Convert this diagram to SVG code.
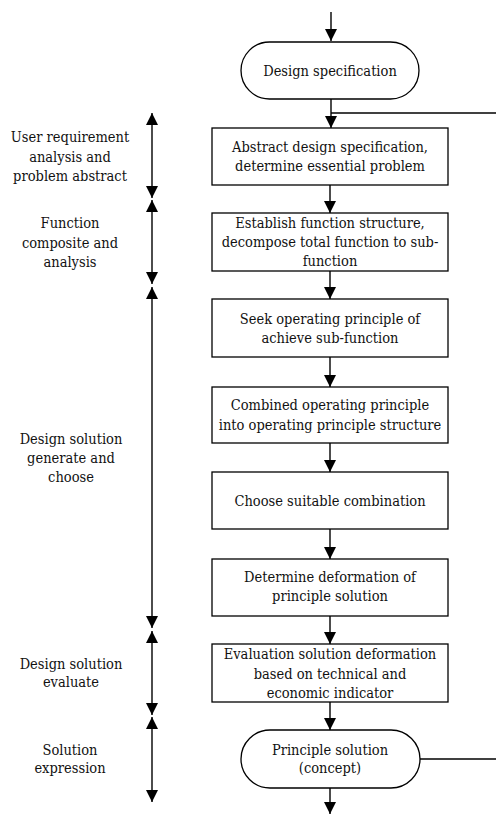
<svg xmlns="http://www.w3.org/2000/svg" width="496" height="815" viewBox="0 0 496 815">
<defs>
<marker id="ah" viewBox="0 0 12 12" refX="12" refY="6" markerWidth="12" markerHeight="12" markerUnits="userSpaceOnUse" orient="auto-start-reverse">
<path d="M0,0 L12,6 L0,12 Z" fill="#000"/>
</marker>
</defs>
<style>
.box{fill:#fff;stroke:#000;stroke-width:1.3}
text{font-family:'DejaVu Serif Condensed','DejaVu Serif',serif;font-stretch:condensed;font-size:14.5px;fill:#111;text-anchor:middle}
.c{fill:none;stroke:#000;stroke-width:1.4}
</style>
<rect width="496" height="815" fill="#fff"/>
<g id="connectors">
<line class="c" x1="331" y1="12" x2="331" y2="41" marker-end="url(#ah)"/>
<line class="c" x1="331" y1="99" x2="331" y2="128" marker-end="url(#ah)"/>
<line class="c" x1="331" y1="113" x2="496" y2="113"/>
<line class="c" x1="330" y1="185" x2="330" y2="213" marker-end="url(#ah)"/>
<line class="c" x1="330" y1="271" x2="330" y2="299" marker-end="url(#ah)"/>
<line class="c" x1="330" y1="357" x2="330" y2="387" marker-end="url(#ah)"/>
<line class="c" x1="330" y1="443" x2="330" y2="472" marker-end="url(#ah)"/>
<line class="c" x1="330" y1="529" x2="330" y2="559" marker-end="url(#ah)"/>
<line class="c" x1="330" y1="616" x2="330" y2="644" marker-end="url(#ah)"/>
<line class="c" x1="330" y1="702" x2="330" y2="730" marker-end="url(#ah)"/>
<line class="c" x1="420" y1="759" x2="496" y2="759"/>
<line class="c" x1="330" y1="788" x2="330" y2="814" marker-end="url(#ah)"/>
<line class="c" x1="152" y1="113" x2="152" y2="198" marker-start="url(#ah)" marker-end="url(#ah)"/>
<line class="c" x1="152" y1="200" x2="152" y2="284" marker-start="url(#ah)" marker-end="url(#ah)"/>
<line class="c" x1="152" y1="287" x2="152" y2="628" marker-start="url(#ah)" marker-end="url(#ah)"/>
<line class="c" x1="152" y1="631" x2="152" y2="715" marker-start="url(#ah)" marker-end="url(#ah)"/>
<line class="c" x1="152" y1="717" x2="152" y2="802" marker-start="url(#ah)" marker-end="url(#ah)"/>
</g>
<g id="n-spec">
<rect class="box" x="241" y="42" width="178" height="57" rx="28.5"/>
<text x="330" y="76">Design specification</text>
</g>
<g id="n-abstract">
<rect class="box" x="212" y="128" width="236" height="57"/>
<text x="330" y="152">Abstract design specification,</text>
<text x="330" y="171">determine essential problem</text>
</g>
<g id="n-function">
<rect class="box" x="212" y="213" width="236" height="58"/>
<text x="330" y="228">Establish function structure,</text>
<text x="330" y="247">decompose total function to sub-</text>
<text x="330" y="266">function</text>
</g>
<g id="n-seek">
<rect class="box" x="212" y="299" width="236" height="58"/>
<text x="330" y="324">Seek operating principle of</text>
<text x="330" y="343">achieve sub-function</text>
</g>
<g id="n-combined">
<rect class="box" x="212" y="387" width="236" height="56"/>
<text x="330" y="410">Combined operating principle</text>
<text x="330" y="430">into operating principle structure</text>
</g>
<g id="n-choose">
<rect class="box" x="212" y="472" width="236" height="57"/>
<text x="330" y="506">Choose suitable combination</text>
</g>
<g id="n-deform">
<rect class="box" x="212" y="559" width="236" height="57"/>
<text x="330" y="582">Determine deformation of</text>
<text x="330" y="601">principle solution</text>
</g>
<g id="n-eval">
<rect class="box" x="212" y="644" width="236" height="58"/>
<text x="330" y="659">Evaluation solution deformation</text>
<text x="330" y="679">based on technical and</text>
<text x="330" y="698">economic indicator</text>
</g>
<g id="n-principle">
<rect class="box" x="241" y="730" width="179" height="58" rx="29"/>
<text x="330" y="755">Principle solution</text>
<text x="330" y="773">(concept)</text>
</g>
<g id="l-user">
<text x="70" y="142">User requirement</text>
<text x="70" y="162">analysis and</text>
<text x="70" y="181">problem abstract</text>
</g>
<g id="l-function">
<text x="70" y="228">Function</text>
<text x="70" y="248">composite and</text>
<text x="70" y="267">analysis</text>
</g>
<g id="l-generate">
<text x="71" y="444">Design solution</text>
<text x="71" y="463">generate and</text>
<text x="71" y="482">choose</text>
</g>
<g id="l-evaluate">
<text x="71" y="669">Design solution</text>
<text x="71" y="687">evaluate</text>
</g>
<g id="l-expression">
<text x="70" y="755">Solution</text>
<text x="70" y="773">expression</text>
</g>
</svg>
